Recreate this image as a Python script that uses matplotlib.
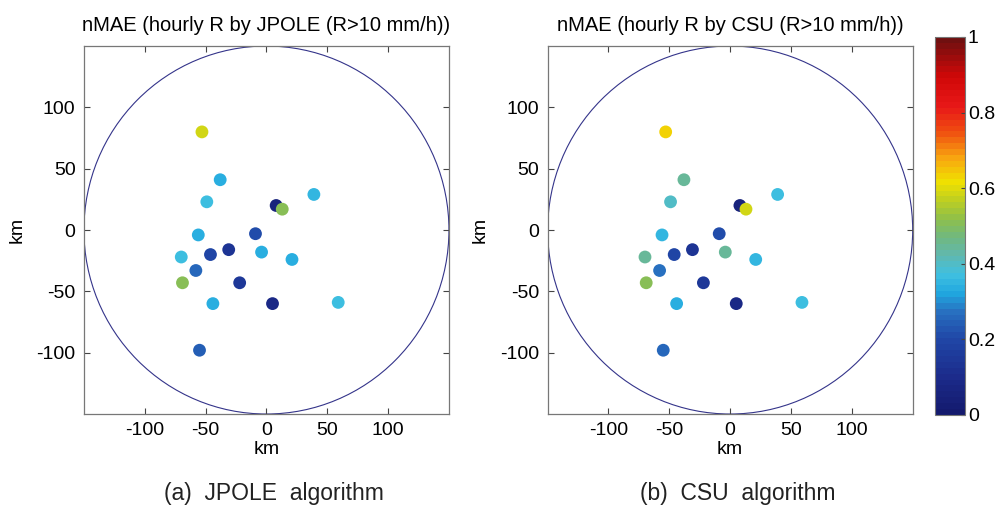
import matplotlib
matplotlib.use('Agg')
import matplotlib.pyplot as plt
from matplotlib.patches import Circle
from matplotlib.colors import LinearSegmentedColormap
import numpy as np

plt.rcParams['font.family'] = ['Liberation Sans', 'DejaVu Sans']
plt.rcParams['axes.unicode_minus'] = False

# gauge positions (km from radar)
gauge_x = [-53, -38, -49, 8, 13, 39, -56, -9, -31, -46, -4, -70, 21, -58, -69, -22, -44, 5, 59, -55]
gauge_y = [80, 41, 23, 20, 17, 29, -4, -3, -16, -20, -18, -22, -24, -33, -43, -43, -60, -60, -59, -98]

# nMAE per gauge
nmae_jpole = [0.58, 0.33, 0.36, 0.05, 0.51, 0.35, 0.33, 0.21, 0.14, 0.20, 0.33, 0.37, 0.34, 0.26, 0.51, 0.15, 0.33, 0.08, 0.37, 0.24]
nmae_csu = [0.63, 0.44, 0.40, 0.05, 0.59, 0.36, 0.35, 0.21, 0.14, 0.20, 0.44, 0.44, 0.35, 0.28, 0.50, 0.15, 0.33, 0.08, 0.37, 0.25]

titles = ['nMAE (hourly R by JPOLE (R>10 mm/h))', 'nMAE (hourly R by CSU (R>10 mm/h))']
captions = ['(a)  JPOLE  algorithm', '(b)  CSU  algorithm']
ticks = [-100, -50, 0, 50, 100]

# washed-out jet, as printed in the source figure
jet_pts = [(0.0, '#141a6e'), (0.1, '#1c2c8c'), (0.2, '#2048a8'), (0.27, '#2870c0'),
           (0.32, '#20a8e0'), (0.37, '#40c0e0'), (0.42, '#60b8b0'), (0.47, '#70b880'),
           (0.52, '#90c048'), (0.57, '#c0d020'), (0.62, '#f0e000'), (0.68, '#f8a810'),
           (0.75, '#f05010'), (0.82, '#e81818'), (0.9, '#d00808'), (1.0, '#701010')]
cmap = LinearSegmentedColormap.from_list('jet_print', jet_pts, N=64)

fig = plt.figure(figsize=(9.99, 5.07), dpi=100)
positions = [[0.084, 0.1834, 0.3654, 0.7258], [0.5482, 0.1834, 0.3654, 0.7258]]

fs = 14
for pos, vals, title, cap in zip(positions, [nmae_jpole, nmae_csu], titles, captions):
    ax = fig.add_axes(pos)
    ax.set_xlim(-150, 150)
    ax.set_ylim(-150, 150)
    ax.add_patch(Circle((0, 0), 150, fill=False, edgecolor='#34348a', linewidth=0.8))
    sc = ax.scatter(gauge_x, gauge_y, c=vals, cmap=cmap, vmin=0, vmax=1, s=85,
                    edgecolors='none', zorder=3)
    ax.set_xticks(ticks)
    ax.set_yticks(ticks)
    ax.tick_params(direction='in', top=True, right=True, length=4, width=0.8,
                   labelsize=fs, color='#444444', pad=6)
    for sp in ax.spines.values():
        sp.set_color('#777777')
        sp.set_linewidth(0.9)
    ax.set_xlabel('km', fontsize=fs, labelpad=1)
    ax.set_ylabel('km', fontsize=fs, labelpad=8)
    ax.set_title(title, fontsize=14.5, pad=11)
    ax.text(0.52, -0.215, cap, transform=ax.transAxes, ha='center', va='center',
            fontsize=16.5, color='#222222')

cax = fig.add_axes([0.936, 0.1815, 0.030, 0.7456])
cb = fig.colorbar(sc, cax=cax)
cb.set_ticks([0, 0.2, 0.4, 0.6, 0.8, 1])
cb.set_ticklabels(['0', '0.2', '0.4', '0.6', '0.8', '1'])
cb.ax.tick_params(direction='in', length=3, labelsize=fs, color='#444444', pad=2)
cb.outline.set_edgecolor('#777777')

fig.savefig('out.png', dpi=100, facecolor='white')
